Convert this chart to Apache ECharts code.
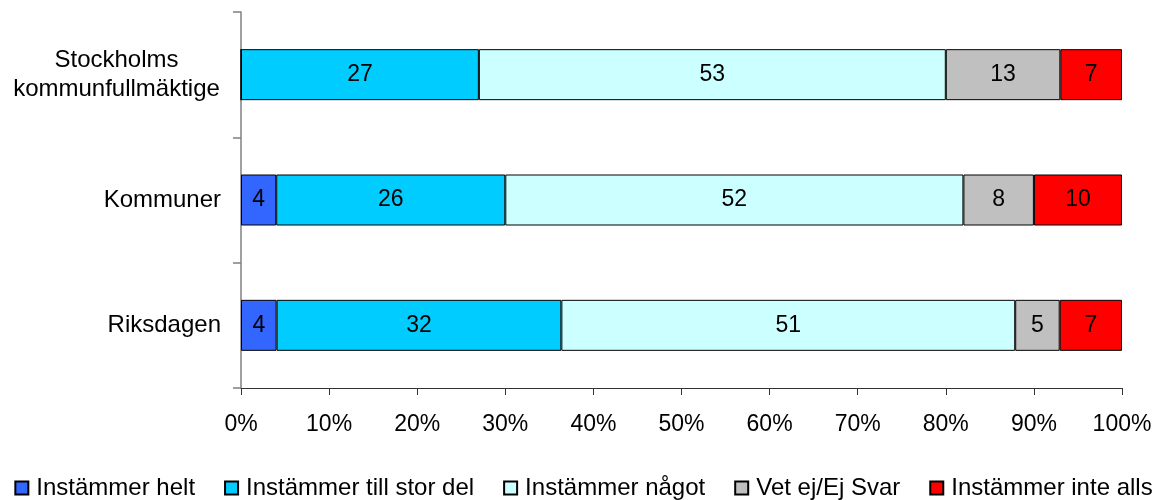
<!DOCTYPE html>
<html>
<head>
<meta charset="utf-8">
<script src="https://cdn.jsdelivr.net/npm/echarts@6/dist/echarts.min.js"></script>
<style>
html,body{margin:0;padding:0;background:#fff;}
#chart{width:1167px;height:500px;}
</style>
</head>
<body>
<div id="chart"></div>
<script>
var categories = ['Stockholms\nkommunfullmäktige', 'Kommuner', 'Riksdagen'];
var seriesNames = ['Instämmer helt', 'Instämmer till stor del', 'Instämmer något', 'Vet ej/Ej Svar', 'Instämmer inte alls'];
var helt = [0, 4, 4];
var storDel = [27, 26, 32];
var nagot = [53, 52, 51];
var vetEj = [13, 8, 5];
var inteAlls = [7, 10, 7];
var colors = ['#3366FF', '#00CCFF', '#CCFFFF', '#C0C0C0', '#FF0000'];
var xTicks = [0, 10, 20, 30, 40, 50, 60, 70, 80, 90, 100];

var raw = [helt, storDel, nagot, vetEj, inteAlls];
var totals = categories.map(function (c, i) {
  return raw.reduce(function (s, arr) { return s + arr[i]; }, 0);
});

var font = 'Liberation Sans, Arial, sans-serif';
var series = raw.map(function (arr, si) {
  return {
    name: seriesNames[si],
    type: 'bar',
    stack: 'total',
    barWidth: 51,
    itemStyle: { color: colors[si], borderColor: '#000', borderWidth: 1 },
    label: {
      show: true,
      position: 'inside',
      color: '#000',
      fontFamily: font,
      fontSize: 23,
      formatter: function (p) {
        var v = arr[p.dataIndex];
        return v === 0 ? '' : String(v);
      }
    },
    emphasis: { disabled: true },
    data: arr.map(function (v, i) { return v / totals[i] * 100; })
  };
});

var chart = echarts.init(document.getElementById('chart'), null, { renderer: 'canvas' });
chart.setOption({
  animation: false,
  backgroundColor: '#fff',
  grid: { left: 241, right: 45, top: 12, bottom: 112, containLabel: false },
  legend: {
    data: seriesNames,
    left: 'center',
    top: 471,
    itemWidth: 13,
    itemHeight: 13,
    itemGap: 29,
    icon: 'rect',
    textStyle: { fontFamily: font, fontSize: 24, color: '#000', padding: [0, 0, 0, 3] }
  },
  xAxis: {
    type: 'value',
    min: 0,
    max: 100,
    interval: 10,
    axisLine: { show: true, lineStyle: { color: '#333', width: 1 } },
    axisTick: { show: true, length: 7, lineStyle: { color: '#333' } },
    splitLine: { show: false },
    axisLabel: {
      fontFamily: font, fontSize: 23, color: '#000', margin: 25,
      formatter: function (v) { return v + '%'; }
    }
  },
  yAxis: {
    type: 'category',
    inverse: true,
    data: categories,
    axisLine: { show: true, lineStyle: { color: '#808080', width: 1.5 } },
    axisTick: { show: true, length: 8, lineStyle: { color: '#808080', width: 1.5 } },
    axisLabel: {
      fontFamily: font, fontSize: 24, color: '#000', margin: 20, lineHeight: 29,
      formatter: function (v) {
        if (v.indexOf('\n') >= 0) {
          return v.split('\n').map(function (s) { return '{c|' + s + '}'; }).join('\n');
        }
        return v;
      },
      rich: { c: { width: 209, align: 'center', fontFamily: font, fontSize: 24, lineHeight: 29, color: '#000' } }
    }
  },
  series: series
});
</script>
</body>
</html>
